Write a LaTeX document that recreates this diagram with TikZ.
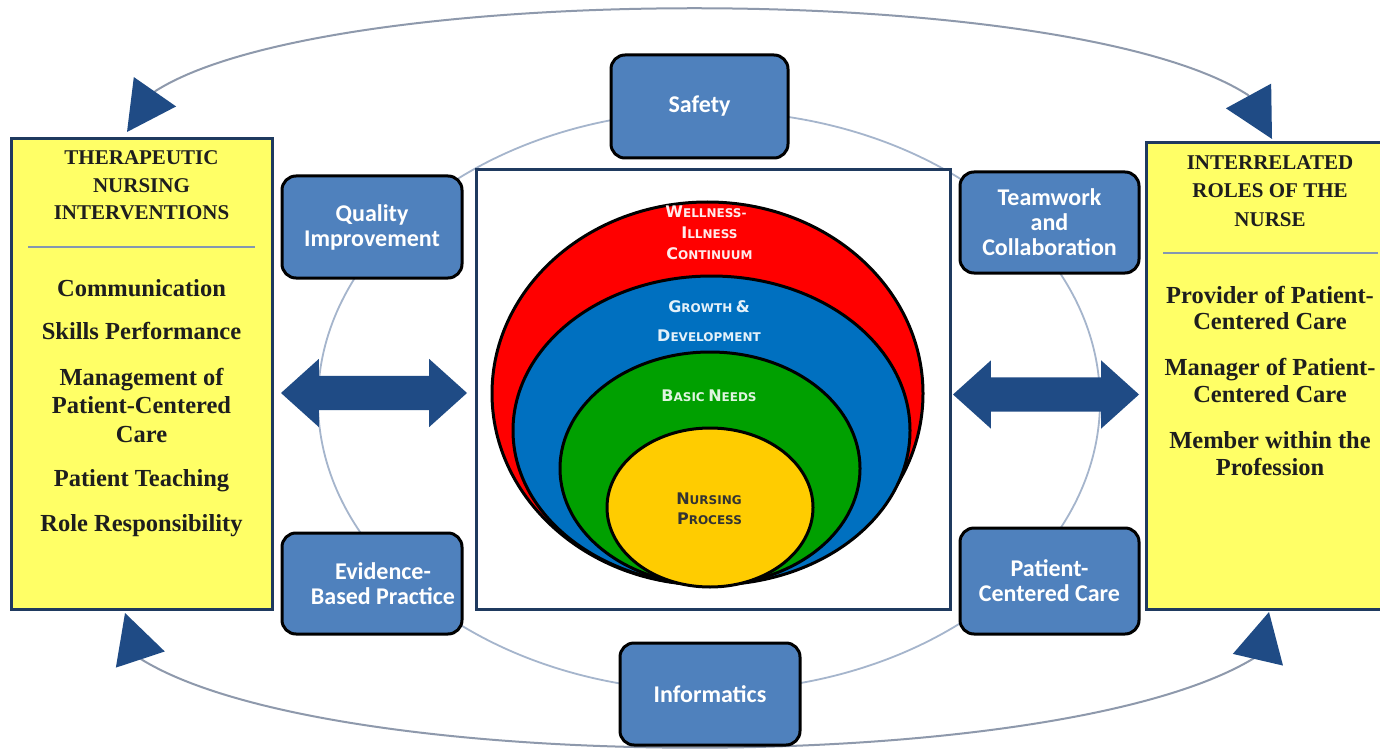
\documentclass[tikz,border=0pt]{standalone}
\usepackage{fontspec}
\setmainfont{Liberation Serif}
\newfontfamily\calfont{Carlito}
\newfontfamily\djfont{DejaVu Sans}
\usetikzlibrary{arrows.meta,shapes.geometric,shapes.arrows}
\definecolor{yel}{HTML}{FFFF66}
\definecolor{navy}{HTML}{1F3A5F}
\definecolor{boxblue}{HTML}{4F81BD}
\definecolor{ringcol}{HTML}{A5B5CC}
\definecolor{arccol}{HTML}{8E99AC}
\definecolor{tipblue}{HTML}{1F4B85}
\definecolor{sepcol}{HTML}{8497B0}
\definecolor{cred}{HTML}{FF0000}
\definecolor{cblue}{HTML}{0070C0}
\definecolor{cgreen}{HTML}{00A000}
\definecolor{cyel}{HTML}{FFCC00}
\definecolor{txtdark}{HTML}{1E1E1E}
\newcommand\sck[2]{{\fontsize{16}{16}\selectfont #1}{\fontsize{12}{12}\selectfont #2}}
\begin{document}
\begin{tikzpicture}[x=1pt,y=-1pt,
  ybox/.style={rectangle, draw=navy, line width=3pt, fill=yel, inner sep=0pt},
  bbox/.style={rectangle, rounded corners=14pt, draw=black, line width=3pt, fill=boxblue,
    minimum width=180pt, minimum height=102pt, align=center, text=white, inner sep=0pt,
    font=\calfont\bfseries\fontsize{24}{25}\selectfont},
  ytitle/.style={font=\bfseries\fontsize{21}{21}\selectfont, anchor=base, inner sep=0pt, text=txtdark},
  yitem/.style={font=\bfseries\fontsize{24.5}{24.5}\selectfont, anchor=base, inner sep=0pt, text=txtdark},
  ctext/.style={font=\djfont\bfseries, anchor=base, inner sep=0pt},
  circ/.style={ellipse, draw=black, line width=3pt, inner sep=0pt},
  ring/.style={draw=ringcol, line width=1.8pt},
  outerarc/.style={draw=arccol, line width=2pt,
    {Triangle[length=49pt,width=51pt,color=tipblue]}-{Triangle[length=49pt,width=51pt,color=tipblue]}},
  blockarrow/.style={double arrow, fill=tipblue, inner xsep=0pt, inner ysep=17pt, minimum height=186pt,
    minimum width=68pt, double arrow head extend=17pt, double arrow tip angle=84},
  sepline/.style={draw=sepcol, line width=1.5pt}
]
\useasboundingbox (0,0) rectangle (1380,751);
\fill[white] (0,0) rectangle (1380,751);

% inner ring
\coordinate (ringc) at (709,401);
\draw[ring] (ringc) ellipse [x radius=391pt, y radius=290pt];

% outer arcs
\coordinate (tTL) at (127,132);
\coordinate (bTL) at (155.5,91);
\coordinate (tTR) at (1272,139);
\coordinate (bTR) at (1248,95);
\coordinate (tBL) at (125,613);
\coordinate (bBL) at (140,658.5);
\coordinate (tBR) at (1269,612);
\coordinate (bBR) at (1259,655);
\draw[outerarc] (tTL) -- (bTL) .. controls (330,-20) and (1070,-20) .. (bTR) -- (tTR);
\draw[outerarc] (tBL) -- (bBL) .. controls (330,778) and (1070,778) .. (bBR) -- (tBR);

% center box and circles
\node[rectangle, draw=navy, line width=3pt, fill=white, minimum width=474pt, minimum height=439pt, inner sep=0pt] (center) at (713,389.5) {};
\node[circ, fill=cred, minimum width=431pt, minimum height=383pt] (wic) at (707.5,393.5) {};
\node[circ, fill=cblue, minimum width=397pt, minimum height=309pt] (gd) at (711.5,430.5) {};
\node[circ, fill=cgreen, minimum width=300pt, minimum height=233pt] (bn) at (710,468.5) {};
\node[circ, fill=cyel, minimum width=206pt, minimum height=159pt] (np) at (710,507.5) {};

\node[ctext, text=red!8] (wic1) at (706,218) {\sck{W}{ELLNESS-}};
\node[ctext, text=red!8] (wic2) at (709.5,239) {\sck{I}{LLNESS}};
\node[ctext, text=red!8] (wic3) at (709.5,259) {\sck{C}{ONTINUUM}};
\node[ctext, text=cblue!10] (gd1) at (709,312) {\sck{G}{ROWTH} {\fontsize{16}{16}\selectfont\&}};
\node[ctext, text=cblue!10] (gd2) at (709,341) {\sck{D}{EVELOPMENT}};
\node[ctext, text=cgreen!12] (bn1) at (709,401) {\sck{B}{ASIC} \sck{N}{EEDS}};
\node[ctext, text=black!80] (np1) at (709,504) {\sck{N}{URSING}};
\node[ctext, text=black!80] (np2) at (709.5,524) {\sck{P}{ROCESS}};

% yellow boxes
\node[ybox, minimum width=261pt, minimum height=470pt] (tni) at (141.5,374) {};
\node[ybox, minimum width=238pt, minimum height=466pt] (irn) at (1265,376) {};

\node[ytitle] (tni1) at (141.5,165) {THERAPEUTIC};
\node[ytitle] (tni2) at (141.5,193) {NURSING};
\node[ytitle] (tni3) at (141.5,220) {INTERVENTIONS};
\coordinate (sl1) at (28,247);
\coordinate (sl2) at (255,247);
\draw[sepline] (sl1) -- (sl2);
\node[yitem] (li1) at (141.5,296) {Communication};
\node[yitem] (li2) at (141.5,339) {Skills Performance};
\node[yitem] (li3a) at (141.5,385) {Management of};
\node[yitem] (li3b) at (141.5,413) {Patient-Centered};
\node[yitem] (li3c) at (141.5,442) {Care};
\node[yitem] (li4) at (141.5,486) {Patient Teaching};
\node[yitem] (li5) at (141.5,531) {Role Responsibility};

\node[ytitle] (irn1) at (1270,170) {INTERRELATED};
\node[ytitle] (irn2) at (1270,198) {ROLES OF THE};
\node[ytitle] (irn3) at (1270,226) {NURSE};
\coordinate (sr1) at (1163,253);
\coordinate (sr2) at (1378,253);
\draw[sepline] (sr1) -- (sr2);
\node[yitem] (ri1a) at (1270,303) {Provider of Patient-};
\node[yitem] (ri1b) at (1270,329) {Centered Care};
\node[yitem] (ri2a) at (1270,375) {Manager of Patient-};
\node[yitem] (ri2b) at (1270,402) {Centered Care};
\node[yitem] (ri3a) at (1270,448) {Member within the};
\node[yitem] (ri3b) at (1270,475) {Profession};

% blue boxes
\node[bbox, minimum width=177pt, minimum height=103pt] (safety) at (699.5,106.5) {Safety};
\node[bbox] (qi) at (372,227) {Quality\\Improvement};
\node[bbox, minimum width=179pt, minimum height=101pt] (tc) at (1049.5,222.5) {Teamwork\\and\\Collaboration};
\node[bbox, minimum height=101pt] (ebp) at (372,583.5) {\hspace*{22pt}Evidence-\\\hspace*{22pt}Based Practice};
\node[bbox, minimum width=179pt, minimum height=106pt] (pcc) at (1049.5,581) {Patient-\\Centered Care};
\node[bbox] (inf) at (710,694) {Informatics};

% block arrows
\node[blockarrow] (larr) at (374,393) {};
\node[blockarrow] (rarr) at (1046,394.5) {};
\end{tikzpicture}
\end{document}
